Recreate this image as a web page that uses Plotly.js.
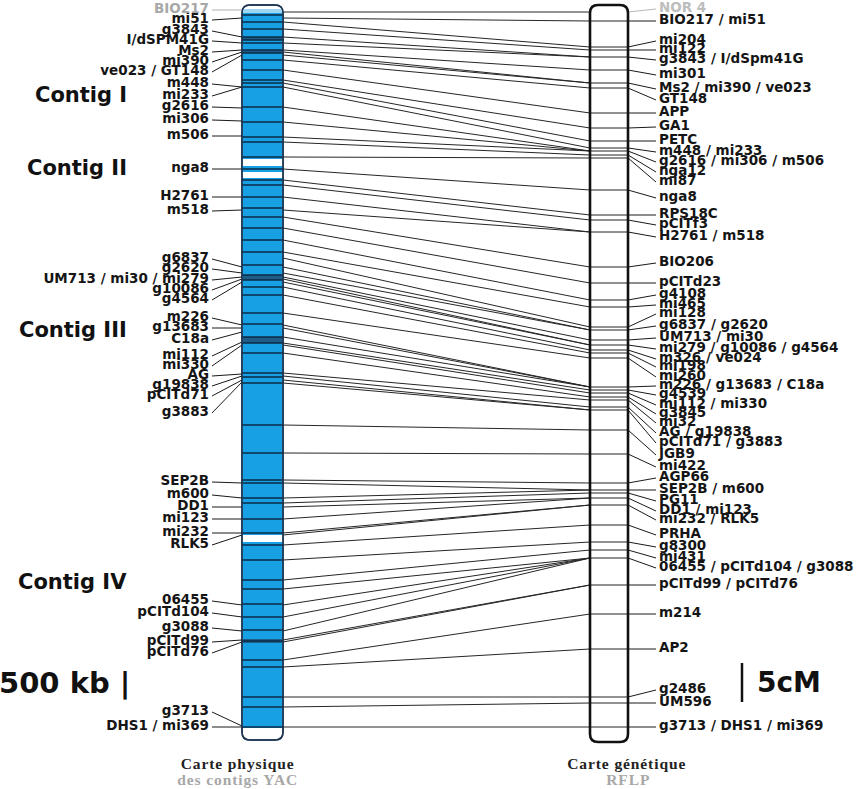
<!DOCTYPE html>
<html>
<head>
<meta charset="utf-8">
<script src="https://cdn.plot.ly/plotly-3.0.1.min.js"></script>
<style>
html,body{margin:0;padding:0;background:#fff;}
#chart{width:860px;height:789px;}
</style>
</head>
<body>
<div id="chart"></div>
<script>
// ---------------- DATA (map units, top of chromosome = 0) ----------------
// Physical map (YAC contigs): marker names, label anchor, band on the bar
const physNames = ["BIO217","mi51","g3843","I/dSPM41G","Ms2","mi390","ve023 / GT148","m448","mi233","g2616","mi306","m506",
  "nga8","H2761","m518","g6837","g2620","UM713 / mi30 / mi279","g10086","g4564","m226","g13683","C18a","mi112","mi330",
  "AG","g19838","pCITd71","g3883","SEP2B","m600","DD1","mi123","mi232","RLK5","06455","pCITd104","g3088","pCITd99",
  "pCITd76","g3713","DHS1 / mi369"];
const physLabelPos = [10,20,31,41,52,62,72,84,96,107,120,136,169,197,211,259,269,280,290,300,318,328,340,356,366,376,386,396,
  413,482,495,507,519,533,545,601,613,628,642,653,712,727];
const physBandPos = [10,18,37,43,50,52,55,87,87,108,121,136,169,197,210,267,273,277,279,282,325,328,332,342,345,374,376,380,
  382,483,498,507,519,533,535,605,617,631,640,642,726,727];

// Bands (YAC clone ends) drawn across the physical bar
const physBands = [15,22,29,37,40,43,50,53,60,70,80,83,87,107,122,137,142,157,169,180,185,197,208,217,228,240,252,265,275,280,
  287,295,313,324,337,343,353,373,377,383,425,453,480,483,498,503,519,533,545,560,580,589,604,617,630,641,660,667,697,707,727];
// dark-filled intervals and gaps on the physical bar
const physDarkFrom = [37,50,275,337,639];
const physDarkTo   = [40,53,280,343,643];
const physGapFrom  = [159,172,535];
const physGapTo    = [166,178,542];

// Genetic map (RFLP): marker names, label anchor, band on the bar
const genNames = ["NOR 4","BIO217 / mi51","mi204","mi122","g3843 / I/dSpm41G","mi301","Ms2 / mi390 / ve023","GT148","APP","GA1",
  "PETC","m448 / mi233","g2616 / mi306 / m506","nga12","mi87","nga8","RPS18C","pCITf3","H2761 / m518","BIO206","pCITd23",
  "g4108","mi465","mi128","g6837 / g2620","UM713 / mi30","mi279 / g10086 / g4564","m326 / ve024","mi198","mi260",
  "m226 / g13683 / C18a","g4539","mi112 / mi330","g3845","mi32","AG / g19838","pCITd71 / g3883","JGB9","mi422","AGP66",
  "SEP2B / m600","PG11","DD1 / mi123","mi232 / RLK5","PRHA","g8300","mi431","06455 / pCITd104 / g3088","pCITd99 / pCITd76",
  "m214","AP2","g2486","UM596","g3713 / DHS1 / mi369"];
const genLabelPos = [9,21,41,50,60,75,89,100,113,127,141,152,162,172,182,198,215,225,237,263,283,295,305,314,326,338,349,359,
  367,377,386,395,405,414,423,433,443,455,467,478,490,501,511,520,535,547,558,568,585,614,649,690,703,727];
const genBandPos = [12,21,47,50,57,70,83,88,113,128,141,148,151,155,158,190,215,220,232,267,283,300,307,327,330,340,345,350,
  353,358,387,390,393,397,400,407,410,430,454,483,490,493,498,505,525,542,550,558,585,614,649,697,703,727];

// Correspondences between the two maps: physical band -> genetic band
const linkPhys = [12,18,22,29,37,43,50,52,55,60,70,80,83,87,107,122,137,142,157,169,180,185,197,210,217,228,240,252,258,267,
  273,277,279,282,287,295,313,325,328,337,343,345,353,373,376,380,383,425,453,480,483,498,503,507,519,533,535,545,560,580,
  589,605,617,631,640,642,660,667,697,707,727];
const linkGen = [12,21,47,50,57,57,70,83,83,88,113,128,141,148,151,151,151,155,158,190,215,220,232,232,267,283,300,307,327,330,
  330,340,345,345,350,353,358,387,387,387,390,393,397,400,407,410,410,430,454,483,490,490,493,498,498,505,505,525,542,550,
  558,558,558,558,585,585,614,649,697,703,727];

const contigNames = ["Contig I","Contig II","Contig III","Contig IV"];
const contigPos = [95,168,330,582];

// ---------------- LAYOUT CONSTANTS ----------------
const G = {
  physX0: 242, physX1: 283, physTop: 5, physBottom: 740, physBlueTop: 13, physBlueBottom: 728,
  genX0: 590, genX1: 628, genTop: 5, genBottom: 742,
  physLabelX: 209, physLeadX: 212, genLeadX: 656, genLabelX: 659
};

function seg(xa, xb, ya, yb) {
  const xs = [], ys = [];
  for (let i = 0; i < ya.length; i++) { xs.push(xa, xb, null); ys.push(ya[i], yb[i], null); }
  return {xs, ys};
}
function rounded(x0, x1, y0, y1, r) {
  return `M${x0},${y0+r} Q${x0},${y0} ${x0+r},${y0} L${x1-r},${y0} Q${x1},${y0} ${x1},${y0+r} ` +
         `L${x1},${y1-r} Q${x1},${y1} ${x1-r},${y1} L${x0+r},${y1} Q${x0},${y1} ${x0},${y1-r} Z`;
}

const traces = [];
const lineCol = '#1a1a1a';

// connection lines
const L = seg(G.physX1, G.genX0, linkPhys, linkGen);
traces.push({x: L.xs, y: L.ys, mode: 'lines', line: {color: '#262626', width: 1}, hoverinfo: 'skip'});

// physical leaders
const pl = seg(G.physLeadX, G.physX0, physLabelPos, physBandPos);
traces.push({x: pl.xs.slice(3), y: pl.ys.slice(3), mode: 'lines', line: {color: lineCol, width: 1}, hoverinfo: 'skip'});
traces.push({x: pl.xs.slice(0,3), y: pl.ys.slice(0,3), mode: 'lines', line: {color: '#b0b0b0', width: 1}, hoverinfo: 'skip'});

// genetic leaders
const gl = seg(G.genX1, G.genLeadX, genBandPos, genLabelPos);
traces.push({x: gl.xs.slice(3), y: gl.ys.slice(3), mode: 'lines', line: {color: lineCol, width: 1}, hoverinfo: 'skip'});
traces.push({x: gl.xs.slice(0,3), y: gl.ys.slice(0,3), mode: 'lines', line: {color: '#b8b8b8', width: 1}, hoverinfo: 'skip'});

// bands across bars
const pb = seg(G.physX0, G.physX1, physBands, physBands);
traces.push({x: pb.xs, y: pb.ys, mode: 'lines', line: {color: '#0d2a44', width: 1.6}, hoverinfo: 'skip'});
const gb = seg(G.genX0, G.genX1, genBandPos.slice(1), genBandPos.slice(1));
traces.push({x: gb.xs, y: gb.ys, mode: 'lines', line: {color: '#222', width: 1}, hoverinfo: 'skip'});

// labels
const font = {family: 'DejaVu Sans', size: 13.5, color: '#151515', weight: 'bold'};
traces.push({x: physNames.slice(1).map(() => G.physLabelX), y: physLabelPos.slice(1), text: physNames.slice(1),
  mode: 'text', textposition: 'middle left', textfont: font, hoverinfo: 'skip'});
traces.push({x: [G.physLabelX], y: physLabelPos.slice(0,1), text: physNames.slice(0,1),
  mode: 'text', textposition: 'middle left', textfont: Object.assign({}, font, {color: '#a8a8a8'}), hoverinfo: 'skip'});
traces.push({x: genNames.slice(1).map(() => G.genLabelX), y: genLabelPos.slice(1), text: genNames.slice(1),
  mode: 'text', textposition: 'middle right', textfont: font, hoverinfo: 'skip'});
traces.push({x: [G.genLabelX], y: genLabelPos.slice(0,1), text: genNames.slice(0,1),
  mode: 'text', textposition: 'middle right', textfont: Object.assign({}, font, {color: '#bdbdbd'}), hoverinfo: 'skip'});

// ---------------- SHAPES ----------------
const shapes = [];
// physical bar body
shapes.push({type: 'path', path: rounded(G.physX0, G.physX1, G.physTop, G.physBottom, 8),
  fillcolor: '#ffffff', line: {color: '#1d3550', width: 1.5}, layer: 'below'});
shapes.push({type: 'rect', x0: G.physX0 + 0.8, x1: G.physX1 - 0.8, y0: 9, y1: G.physBlueTop,
  fillcolor: '#9fd6f3', line: {width: 0}, layer: 'below'});
shapes.push({type: 'rect', x0: G.physX0 + 0.8, x1: G.physX1 - 0.8, y0: G.physBlueTop, y1: G.physBlueBottom,
  fillcolor: '#17a0e3', line: {width: 0}, layer: 'below'});
for (let i = 0; i < physDarkFrom.length; i++) {
  shapes.push({type: 'rect', x0: G.physX0 + 0.8, x1: G.physX1 - 0.8, y0: physDarkFrom[i], y1: physDarkTo[i],
    fillcolor: '#1f5d88', line: {width: 0}, layer: 'below'});
}
for (let i = 0; i < physGapFrom.length; i++) {
  shapes.push({type: 'rect', x0: G.physX0 + 0.8, x1: G.physX1 - 0.8, y0: physGapFrom[i], y1: physGapTo[i],
    fillcolor: '#ffffff', line: {width: 0}, layer: 'below'});
}
// borders of physical bar drawn on top
shapes.push({type: 'path', path: rounded(G.physX0, G.physX1, G.physTop, G.physBottom, 8),
  fillcolor: 'rgba(0,0,0,0)', line: {color: '#1d3550', width: 1.5}, layer: 'above'});
// genetic bar
shapes.push({type: 'path', path: rounded(G.genX0, G.genX1, G.genTop, G.genBottom, 8),
  fillcolor: 'rgba(0,0,0,0)', line: {color: '#111', width: 2.6}, layer: 'above'});
// 5 cM scale bar
shapes.push({type: 'line', x0: 742, x1: 742, y0: 663, y1: 702, line: {color: '#111', width: 2.5}});

// ---------------- ANNOTATIONS ----------------
const ann = [];
const bigFont = {family: 'DejaVu Sans', size: 21, color: '#111', weight: 'bold'};
for (let i = 0; i < contigNames.length; i++) {
  ann.push({x: 129, y: contigPos[i], xref: 'x', yref: 'y', text: contigNames[i], showarrow: false,
    xanchor: 'right', yanchor: 'middle', font: bigFont});
}
ann.push({x: 132, y: 683, xref: 'x', yref: 'y', text: '500 kb |', showarrow: false, xanchor: 'right', yanchor: 'middle',
  font: {family: 'DejaVu Sans', size: 29, color: '#111', weight: 'bold'}});
ann.push({x: 755, y: 682, xref: 'x', yref: 'y', text: '5cM', showarrow: false, xanchor: 'left', yanchor: 'middle',
  font: {family: 'DejaVu Sans', size: 28, color: '#111', weight: 'bold'}});
const serif = {family: 'Liberation Serif', size: 15.5, color: '#222', weight: 'bold'};
ann.push({x: 237, y: 763, xref: 'x', yref: 'y', text: 'Carte physique', showarrow: false, xanchor: 'center', yanchor: 'middle', font: serif});
ann.push({x: 237, y: 779, xref: 'x', yref: 'y', text: 'des contigs YAC', showarrow: false, xanchor: 'center', yanchor: 'middle',
  font: Object.assign({}, serif, {color: '#a8a8a8'})});
ann.push({x: 627, y: 763, xref: 'x', yref: 'y', text: 'Carte génétique', showarrow: false, xanchor: 'center', yanchor: 'middle', font: serif});
ann.push({x: 628, y: 779, xref: 'x', yref: 'y', text: 'RFLP', showarrow: false, xanchor: 'center', yanchor: 'middle',
  font: Object.assign({}, serif, {color: '#a8a8a8'})});

const layout = {
  width: 860, height: 789,
  margin: {l: 0, r: 0, t: 0, b: 0},
  paper_bgcolor: '#ffffff', plot_bgcolor: '#ffffff',
  showlegend: false,
  xaxis: {range: [0, 860], visible: false, fixedrange: true},
  yaxis: {range: [789, 0], visible: false, fixedrange: true},
  shapes: shapes,
  annotations: ann
};

Plotly.newPlot('chart', traces, layout, {displayModeBar: false, staticPlot: true}).then(function () {
  // widen the serif captions (tracked lettering as in the original figure)
  document.querySelectorAll('#chart .annotation-text').forEach(function (t) {
    if (/Carte|contigs|RFLP/.test(t.textContent)) t.style.letterSpacing = '0.9px';
  });
});
</script>
</body>
</html>
